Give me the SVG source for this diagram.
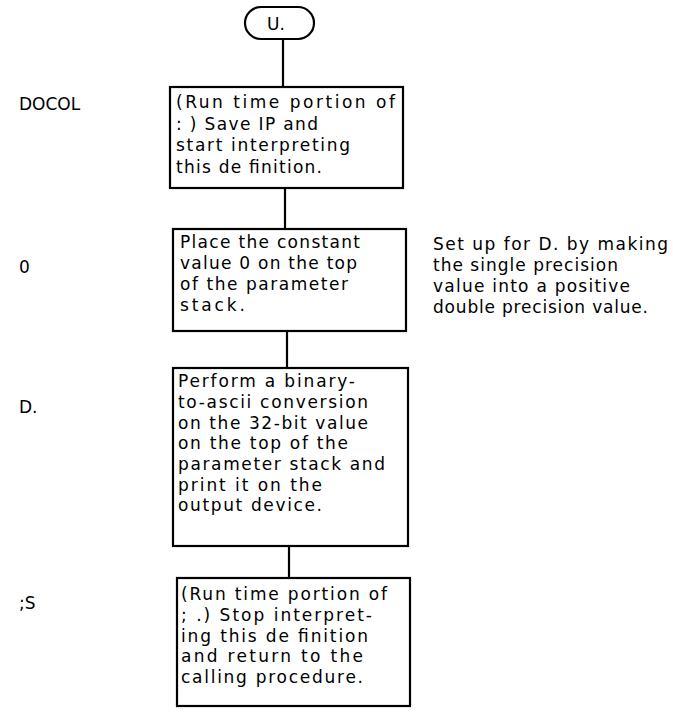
<svg xmlns="http://www.w3.org/2000/svg" width="673" height="713" viewBox="0 0 673 713">
<style>
.box{fill:#fff;stroke:#000;stroke-width:2.2}
.ln{stroke:#000;stroke-width:2.2;fill:none}
text{font-family:"DejaVu Sans","Liberation Sans",sans-serif;font-size:17px;fill:#000}
</style>
<rect width="673" height="713" fill="#fff"/>
<g id="connectors">
<line class="ln" x1="283" y1="38" x2="283" y2="87"/>
<line class="ln" x1="285" y1="188" x2="285" y2="229"/>
<line class="ln" x1="287" y1="331" x2="287" y2="368"/>
<line class="ln" x1="289" y1="546" x2="289" y2="578"/>
</g>
<g id="start">
<rect class="box" x="245" y="7" width="69" height="32" rx="16" ry="16"/>
<text x="267" y="30">U.</text>
</g>
<g id="docol">
<text x="19" y="110">DOCOL</text>
<rect class="box" x="170" y="87" width="233" height="101"/>
<text x="176" y="108" textLength="219" lengthAdjust="spacing">(Run time portion of</text>
<text x="176" y="129.5" textLength="142" lengthAdjust="spacing">: ) Save IP and</text>
<text x="176" y="151" textLength="174" lengthAdjust="spacing">start interpreting</text>
<text x="176" y="172.5" textLength="146" lengthAdjust="spacing">this de finition.</text>
</g>
<g id="zero">
<text x="19" y="273">0</text>
<rect class="box" x="173" y="229" width="233" height="102"/>
<text x="180" y="248" textLength="180" lengthAdjust="spacing">Place the constant</text>
<text x="180" y="269" textLength="177" lengthAdjust="spacing">value 0 on the top</text>
<text x="180" y="290" textLength="168" lengthAdjust="spacing">of the parameter</text>
<text x="180" y="311" textLength="65" lengthAdjust="spacing">stack.</text>
<text x="433" y="250" textLength="235" lengthAdjust="spacing">Set up for D. by making</text>
<text x="433" y="271" textLength="185" lengthAdjust="spacing">the single precision</text>
<text x="433" y="292" textLength="197" lengthAdjust="spacing">value into a positive</text>
<text x="433" y="313" textLength="215" lengthAdjust="spacing">double precision value.</text>
</g>
<g id="ddot">
<text x="19" y="413">D.</text>
<rect class="box" x="173" y="368" width="235" height="178"/>
<text x="178" y="387" textLength="177" lengthAdjust="spacing">Perform a binary-</text>
<text x="178" y="408" textLength="190" lengthAdjust="spacing">to-ascii conversion</text>
<text x="178" y="429" textLength="190" lengthAdjust="spacing">on the 32-bit value</text>
<text x="178" y="449" textLength="170" lengthAdjust="spacing">on the top of the</text>
<text x="178" y="470" textLength="207" lengthAdjust="spacing">parameter stack and</text>
<text x="178" y="491" textLength="144" lengthAdjust="spacing">print it on the</text>
<text x="178" y="511" textLength="144" lengthAdjust="spacing">output device.</text>
</g>
<g id="semis">
<text x="19" y="609">;S</text>
<rect class="box" x="177" y="578" width="233" height="128"/>
<text x="181" y="600" textLength="206" lengthAdjust="spacing">(Run time portion of</text>
<text x="181" y="621" textLength="191" lengthAdjust="spacing">; .) Stop interpret-</text>
<text x="181" y="642" textLength="187" lengthAdjust="spacing">ing this de finition</text>
<text x="181" y="662" textLength="182" lengthAdjust="spacing">and return to the</text>
<text x="181" y="683" textLength="182" lengthAdjust="spacing">calling procedure.</text>
</g>
</svg>
